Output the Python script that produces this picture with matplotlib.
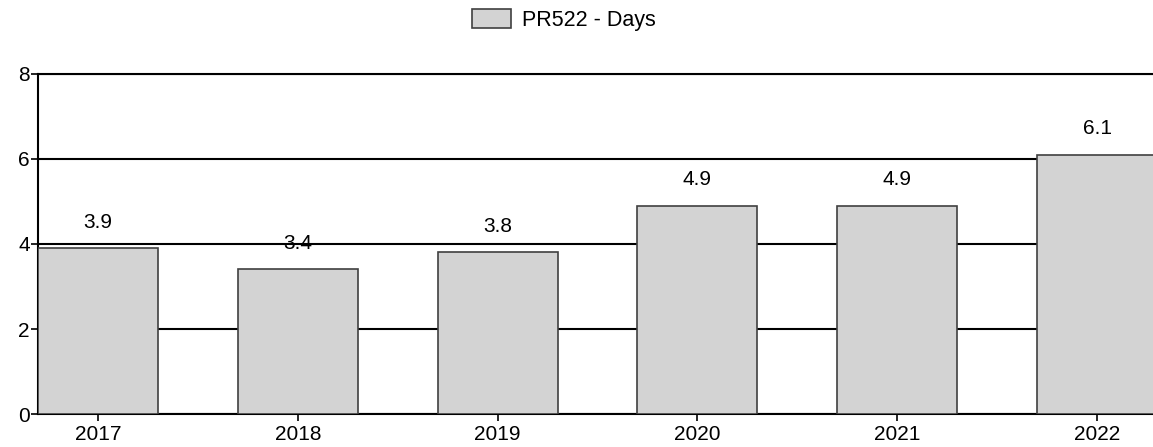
import matplotlib
matplotlib.use("Agg")
import matplotlib.pyplot as plt

plt.rcParams['font.family'] = ['Liberation Sans', 'DejaVu Sans']

years = ["2017", "2018", "2019", "2020", "2021", "2022"]
days = [3.9, 3.4, 3.8, 4.9, 4.9, 6.1]
series_name = "PR522 - Days"

fig = plt.figure(figsize=(11.53, 4.47), dpi=100)
ax = fig.add_axes([0.033, 0.0738, 0.967, 0.7607])

x = range(len(years))
bars = ax.bar(x, days, width=0.6, color="#d3d3d3", edgecolor="#404040",
              linewidth=1.2, zorder=3, label=series_name)

for xi, v in zip(x, days):
    ax.annotate(f"{v}", (xi, v), xytext=(0, 12), textcoords="offset points",
                ha="center", va="bottom", fontsize=15, zorder=4)

ax.set_ylim(0, 8)
ax.set_yticks([0, 2, 4, 6, 8])
ax.set_xlim(-0.3, 5.28)
ax.set_xticks(list(x))
ax.set_xticklabels(years)
ax.yaxis.grid(True, color="black", linewidth=1.5, zorder=1)
ax.set_axisbelow(True)

ax.spines["right"].set_visible(False)
for side in ["left", "bottom", "top"]:
    ax.spines[side].set_linewidth(1.5)
ax.tick_params(axis="both", labelsize=15, length=5, width=1.2, pad=1)
ax.tick_params(axis="x", pad=3)

fig.legend(handles=[bars], labels=[series_name], loc="center",
           bbox_to_anchor=(0.489, 0.955), frameon=False, fontsize=15.5,
           handlelength=1.8, handleheight=1.0, handletextpad=0.5)

fig.savefig("out.png", dpi=100)
